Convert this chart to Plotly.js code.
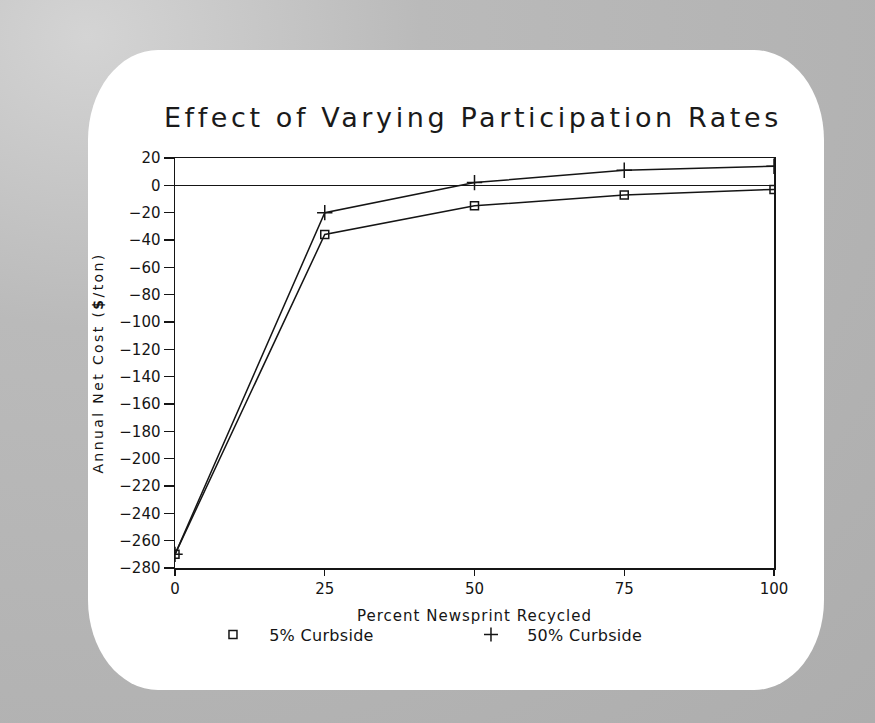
<!DOCTYPE html>
<html>
<head>
<meta charset="utf-8">
<script src="https://cdn.plot.ly/plotly-3.0.1.min.js"></script>
<style>
  html, body { margin: 0; padding: 0; }
  body { background: #b3b3b3; }
  #wrap { position: relative; width: 875px; height: 723px; overflow: hidden;
          background: radial-gradient(ellipse at 10% 5%, #d4d4d4 0%, #bababa 30%, #adadad 100%); }
  #screen { position: absolute; left: 88px; top: 50px; width: 736px; height: 640px;
            background: #ffffff; border-radius: 70px / 90px; }
  #chart { position: absolute; left: 0; top: 0; width: 875px; height: 723px; }
  #chart .gtitle { letter-spacing: 3.6px; }
  #chart .xtitle { letter-spacing: 1px; }
  #chart .ytitle { letter-spacing: 2.4px; }
  #chart .legendtext { letter-spacing: 0.3px; }
</style>
</head>
<body>
<div id="wrap">
  <div id="screen"></div>
  <div id="chart"></div>
</div>
<script>
// Data
const percentRecycled = [0, 25, 50, 75, 100];
const curbside5 = [-270, -36, -15, -7, -3];
const curbside50 = [-270, -20, 2, 11, 14];
const seriesNames = ["5% Curbside", "50% Curbside"];
const xTicks = [0, 25, 50, 75, 100];

const ink = '#151515';
const font = { family: 'DejaVu Sans, Liberation Sans, sans-serif', color: ink };
const pad = '\u00a0\u00a0\u00a0';

const traces = [
  {
    x: percentRecycled, y: curbside5, name: seriesNames[0], type: 'scatter',
    mode: 'lines+markers', showlegend: false,
    line: { color: ink, width: 1.5 },
    marker: { symbol: 'square-open', size: 8, color: ink, line: { width: 1.5 } }
  },
  {
    x: percentRecycled, y: curbside50, name: seriesNames[1], type: 'scatter',
    mode: 'lines+markers', showlegend: false,
    line: { color: ink, width: 1.5 },
    marker: { symbol: 'cross-thin', size: 11, color: ink, line: { width: 1.5, color: ink } }
  },
  // legend-only entries (markers only, as in the reference)
  {
    x: [null], y: [null], name: pad + seriesNames[0], type: 'scatter', mode: 'markers',
    marker: { symbol: 'square-open', size: 8, color: ink, line: { width: 1.5 } }
  },
  {
    x: [null], y: [null], name: pad + seriesNames[1], type: 'scatter', mode: 'markers',
    marker: { symbol: 'cross-thin', size: 10, color: ink, line: { width: 1.5, color: ink } }
  }
];

const layout = {
  width: 875, height: 723,
  margin: { l: 175, r: 101, t: 158, b: 155 },
  paper_bgcolor: 'rgba(0,0,0,0)',
  plot_bgcolor: 'rgba(0,0,0,0)',
  font: font,
  title: {
    text: 'Effect of Varying Participation Rates',
    font: { family: 'DejaVu Sans, sans-serif', size: 27, color: '#1a1a1a' },
    x: 0.5405, xanchor: 'center', y: 0.837, yanchor: 'middle'
  },
  xaxis: {
    range: [0, 100], tickvals: xTicks, ticktext: xTicks.map(String),
    showgrid: false, zeroline: false,
    showline: true, mirror: true, linecolor: ink, linewidth: 1.5,
    ticks: 'outside', ticklen: 6, tickwidth: 1.2, tickcolor: ink,
    tickfont: { size: 15, color: ink },
    title: { text: 'Percent Newsprint Recycled', font: { size: 15, color: ink }, standoff: 14 }
  },
  yaxis: {
    range: [-280, 20], dtick: 20, tick0: 0,
    showgrid: false, zeroline: true, zerolinecolor: ink, zerolinewidth: 1.2,
    showline: true, mirror: true, linecolor: ink, linewidth: 1.5,
    ticks: 'outside', ticklen: 10, tickwidth: 1.2, tickcolor: ink,
    tickfont: { size: 15, color: ink },
    title: { text: 'Annual Net Cost (<b>$</b>/ton)', font: { size: 14, color: ink }, standoff: 12 }
  },
  legend: {
    orientation: 'h', x: 0.0634, xanchor: 'left', y: -0.121, yanchor: 'top',
    font: { size: 16, color: ink }, bgcolor: 'rgba(0,0,0,0)',
    entrywidth: 213, entrywidthmode: 'pixels', itemwidth: 30
  }
};

Plotly.newPlot('chart', traces, layout, { displayModeBar: false, staticPlot: true });
</script>
</body>
</html>
